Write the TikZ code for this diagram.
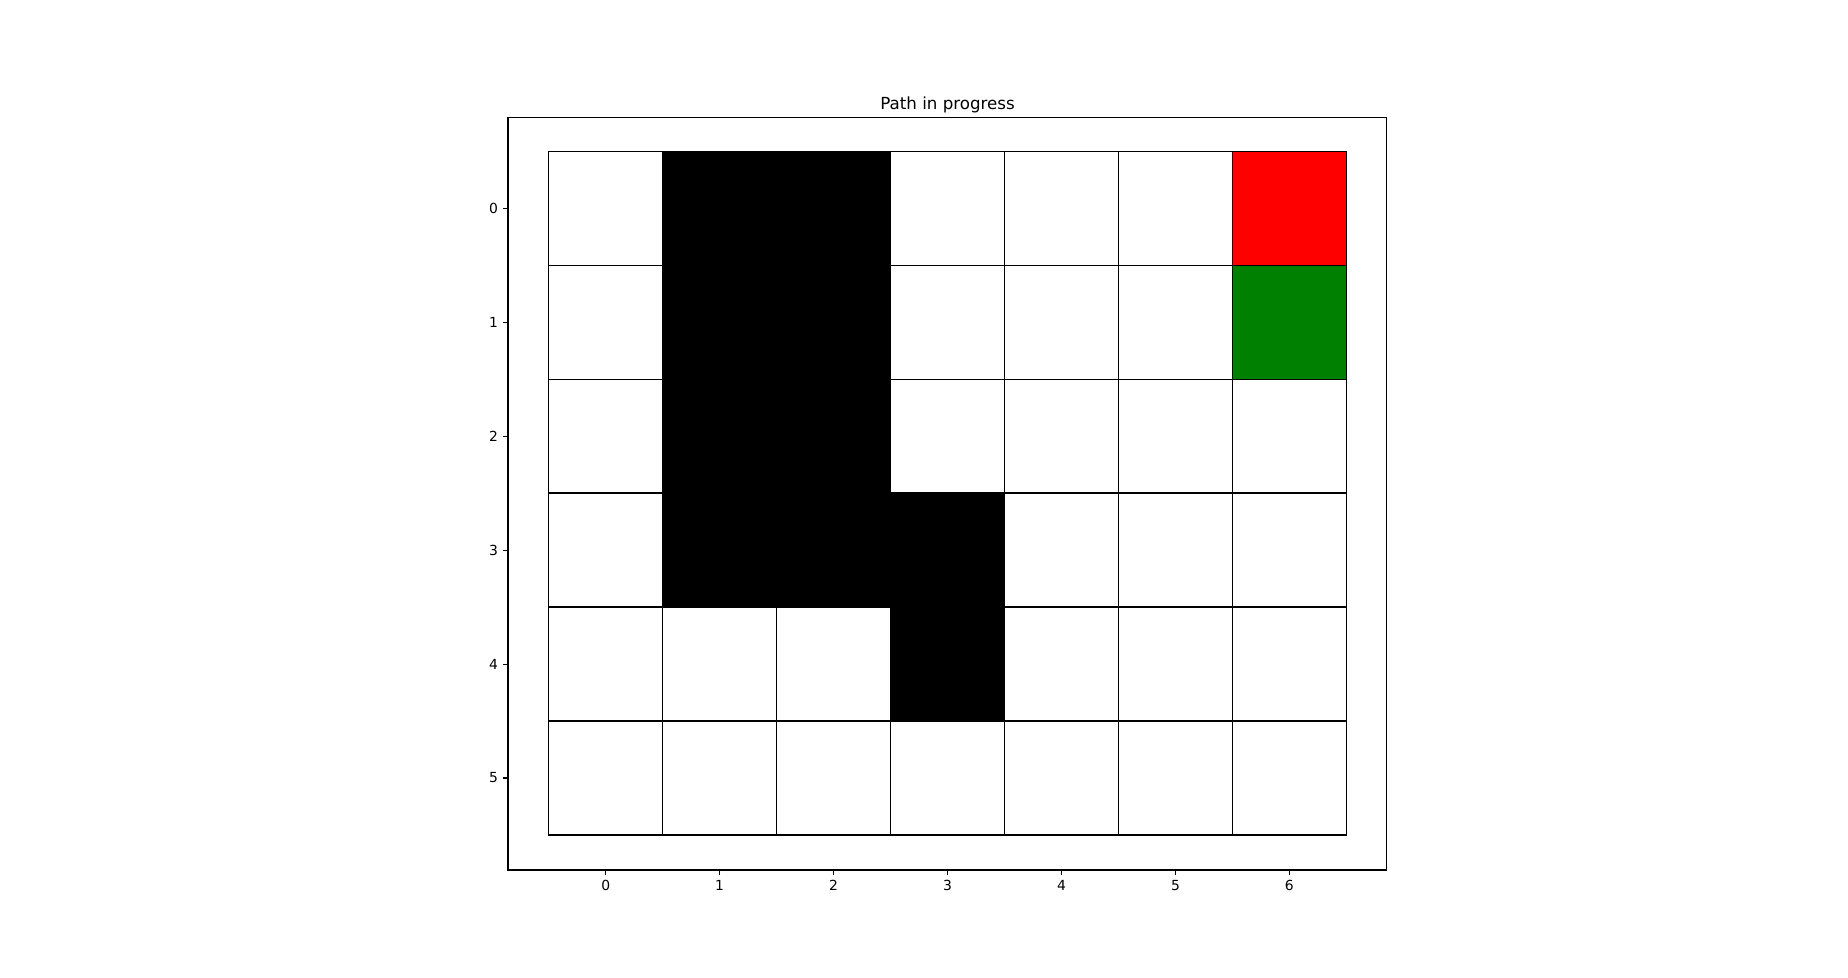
\documentclass[tikz,border=0pt]{standalone}
\usepackage{fontspec}
\setmainfont{DejaVu Sans}
\begin{document}
\begin{tikzpicture}[x=82.044pt,y=-82.044pt,
  cell/.style={draw=black,line width=1pt},
  spine/.style={draw=black,line width=0.8pt},
  tick/.style={line width=0.8pt},
  ticklab/.style={font=\fontsize{10}{12}\selectfont,inner sep=0pt}]
\useasboundingbox (-5.3153,-1.8278) rectangle (10.9024,6.7462);
% cells
\foreach \r in {0,...,5}{
  \foreach \c in {0,...,6}{
    \draw[cell,fill=white] (\c-0.5,\r-0.5) rectangle (\c+0.5,\r+0.5);
  }
}
\foreach \c/\r in {1/0,2/0,1/1,2/1,1/2,2/2,1/3,2/3,3/3,3/4}{
  \draw[cell,fill=black] (\c-0.5,\r-0.5) rectangle (\c+0.5,\r+0.5);
}
\draw[cell,fill=red] (5.5,-0.5) rectangle (6.5,0.5);
\draw[cell,fill={rgb,255:red,0;green,128;blue,0}] (5.5,0.5) rectangle (6.5,1.5);
% axes frame
\draw[spine] (-0.857,-0.798) rectangle (6.855,5.807);
% ticks
\foreach \i in {0,...,5}{
  \draw[tick] (-0.857,\i) -- (-0.8997,\i);
  \node[ticklab,anchor=east] (yl\i) at (-0.942,\i) {\i};
}
\foreach \i in {0,...,6}{
  \draw[tick] (\i,5.807) -- (\i,5.8497);
  \node[ticklab,anchor=north] (xl\i) at (\i,5.892) {\i};
}
\node[font=\fontsize{12}{14}\selectfont,anchor=base,inner sep=0pt] (title) at (3,-0.871) {Path in progress};
\end{tikzpicture}
\end{document}
